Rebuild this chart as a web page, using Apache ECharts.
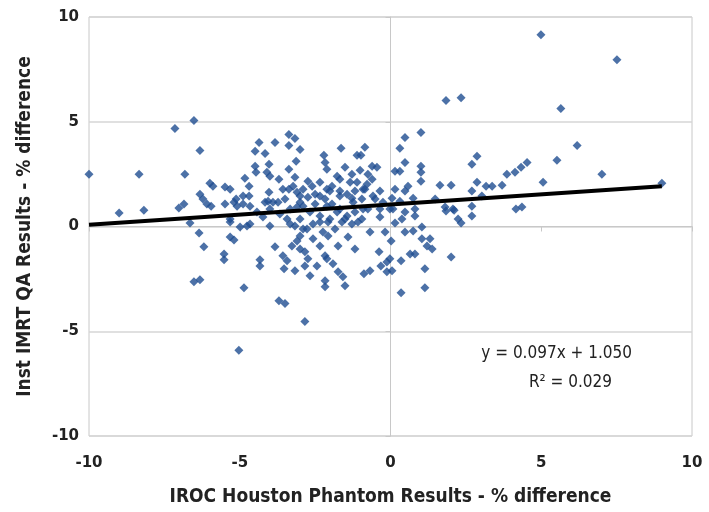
<!DOCTYPE html>
<html>
<head>
<meta charset="utf-8">
<script src="https://cdn.jsdelivr.net/npm/echarts@6/dist/echarts.min.js"></script>
<style>
html,body{margin:0;padding:0;background:#fff;}
#chart{width:709px;height:512px;}
</style>
</head>
<body>
<div id="chart"></div>
<script>
// X values: IROC Houston phantom results (% difference)
var phantomX = [
-10.00,-9.00,-8.34,-8.18,-7.15,-7.02,-6.85,-6.82,-6.52,-6.32,
4.99,7.51,1.84,2.34,5.65,6.19,5.52,7.01,9.00,-5.03,
-4.36,-3.83,-3.37,-3.17,-3.37,-3.00,-4.49,-4.16,-3.13,-2.21,
-2.17,-2.11,-4.49,-4.03,-4.10,-4.00,-3.37,-3.70,-3.17,-4.83,
-4.46,-4.69,-5.99,-5.89,-5.49,-5.32,-6.32,-6.22,-6.09,-5.95,
-5.49,-5.12,-5.09,-4.89,-4.69,-4.03,-4.06,-3.73,-3.37,-3.23,
-3.10,-2.90,-2.74,-2.60,-2.50,-2.34,-2.11,-2.74,-3.00,-3.10,
-3.33,-2.11,-5.32,-4.43,-4.00,-2.67,-2.34,-4.89,-4.66,-4.16,
-3.90,-5.19,1.01,0.48,-1.64,-0.85,-1.11,-0.98,0.31,0.48,
-1.51,-1.01,-0.61,-0.45,0.15,0.31,1.01,1.01,-1.68,-1.28,
-0.75,-0.61,-1.11,-0.78,1.01,-1.94,-2.01,-1.68,-1.44,-1.18,
-0.85,-0.35,0.15,0.58,0.48,1.64,2.01,2.70,2.70,-1.28,
-0.95,-0.51,0.05,0.75,0.31,-1.94,-1.68,-1.18,-0.75,-0.35,
0.08,0.48,0.81,1.48,1.81,2.07,2.24,2.70,-1.51,-0.95,
-0.35,0.38,0.81,2.87,2.87,3.17,3.37,3.70,3.86,4.13,
4.33,4.53,5.06,3.03,1.84,2.11,2.70,2.34,4.16,4.36,
-6.65,-6.35,-6.19,-5.52,-5.52,-5.32,-5.19,-6.52,-6.32,-4.86,
-4.33,-4.33,-3.83,-3.70,-3.50,-2.84,-4.99,-4.76,-5.32,-4.00,
-4.23,-3.57,-3.43,-3.53,-3.17,-3.27,-3.10,-3.00,-2.84,-2.74,
-2.67,-2.84,-2.44,-2.34,-2.17,-2.17,-2.17,-3.33,-3.17,-2.90,
-2.57,-2.24,-3.00,-2.07,-1.84,-1.61,-1.28,-1.08,-2.07,-1.74,
-1.41,-1.18,-0.68,-0.18,0.15,0.48,0.75,1.04,1.04,1.31,
1.21,1.38,0.02,-0.38,-0.32,-0.12,-0.02,-0.12,0.05,0.35,
0.65,0.81,1.14,1.14,0.35,2.01,-0.88,-0.68,-2.11,-1.91,
-1.74,-1.58,-1.51,-4.66,-3.00,-2.90,-3.00,-2.77,-2.34,-2.01,
-1.77,-1.44,-0.91,-1.24,-1.68,-2.34,-1.77,-1.34,-0.91,-0.58,
-0.25,-0.02,-2.57,-3.57,-3.50,-2.50,-2.17,-3.67,-3.43
];
// Y values: institution IMRT QA results (% difference)
var instQAY = [
2.49,0.64,2.49,0.78,4.68,0.88,1.07,2.49,5.06,3.63,
9.15,7.96,6.01,6.15,5.63,3.87,3.16,2.49,2.07,-5.91,
4.01,4.01,4.39,4.20,3.87,3.68,3.59,3.49,3.11,3.40,
3.06,2.73,2.87,2.97,2.59,2.40,2.73,2.26,2.35,2.30,
2.59,1.92,2.07,1.92,1.88,1.78,1.54,1.31,1.07,0.97,
1.07,1.31,0.97,1.45,1.45,1.64,1.21,1.16,1.78,1.92,
1.64,1.78,2.16,1.92,1.54,1.45,1.78,1.40,1.16,0.93,
0.83,0.97,0.36,0.69,0.83,0.69,0.50,1.07,0.97,1.16,
1.16,1.16,4.49,4.25,3.73,3.78,3.40,3.40,3.73,3.06,
2.83,2.68,2.87,2.83,2.64,2.64,2.87,2.59,2.26,2.49,
2.49,2.26,2.11,2.02,2.16,1.92,1.69,1.69,1.54,1.69,
1.78,1.69,1.78,1.92,1.69,1.97,1.97,2.97,1.69,1.35,
1.31,1.31,1.35,1.35,1.21,1.07,0.83,0.69,0.83,0.83,
0.83,0.69,0.83,1.31,0.93,0.83,0.36,0.97,0.36,0.36,
0.45,0.36,0.50,3.35,2.11,1.92,1.92,1.97,2.49,2.59,
2.83,3.06,2.11,1.45,0.74,0.78,0.50,0.17,0.83,0.93,
0.17,-0.31,-0.97,-1.31,-1.59,-0.50,-0.64,-2.64,-2.54,-2.92,
-1.59,-1.88,-0.97,-3.54,-3.68,-4.54,-0.02,0.02,0.21,0.02,
0.45,-1.40,-1.64,-2.02,-2.11,-0.93,-0.69,-1.07,-1.21,-1.54,
-2.35,-1.88,-1.88,-0.93,-1.40,-2.59,-2.87,0.12,0.02,-0.12,
0.12,-0.26,-0.45,0.21,-0.12,0.21,0.12,0.21,-0.45,-0.93,
-0.50,-1.07,-0.26,-0.26,0.17,-0.26,-0.21,-0.02,-0.59,-0.59,
-0.93,-1.07,-0.69,-1.21,-1.88,-1.69,-1.54,-2.16,-2.11,-1.64,
-1.31,-1.31,-2.02,-2.92,-3.16,-1.45,-2.26,-2.11,-1.54,-1.78,
-2.16,-2.40,-2.83,0.12,1.45,0.97,0.36,-0.12,0.21,0.36,
0.69,0.50,0.83,1.16,1.45,2.11,2.40,2.11,1.78,1.45,
1.16,0.83,-0.59,1.78,1.31,1.07,1.31,0.60,0.36
];
// Linear fit reported on the chart
var fitSlope = 0.097;
var fitIntercept = 1.050;
var fitRange = [-10, 9];
var xTicks = [-10, -5, 0, 5, 10];
var yTicks = [-10, -5, 0, 5, 10];
var fitLabel = 'y = 0.097x + 1.050';
var r2Label = 'R\u00B2 = 0.029';

var points = phantomX.map(function (x, i) { return [x, instQAY[i]]; });
var fitLine = fitRange.map(function (x) { return [x, fitSlope * x + fitIntercept]; });

var chart = echarts.init(document.getElementById('chart'), null, {renderer: 'canvas'});
var tickFont = {fontFamily: 'DejaVu Sans', fontWeight: 'bold', fontSize: 15, color: '#222'};
var titleFont = {fontFamily: 'DejaVu Sans Condensed', fontWeight: 'bold', fontSize: 19, color: '#222'};
chart.setOption({
  animation: false,
  backgroundColor: '#ffffff',
  grid: {left: 89, right: 17, top: 17, bottom: 74, show: true, borderColor: '#c8c8c8', borderWidth: 1},
  xAxis: {
    type: 'value', min: xTicks[0], max: xTicks[xTicks.length - 1], interval: 5,
    name: 'IROC Houston Phantom Results - % difference',
    nameLocation: 'middle', nameGap: 52,
    nameTextStyle: titleFont,
    axisLine: {show: true, lineStyle: {color: '#c8c8c8'}},
    axisTick: {show: true, length: 5, lineStyle: {color: '#c8c8c8'}},
    axisLabel: Object.assign({margin: 20}, tickFont),
    splitLine: {show: false}
  },
  yAxis: {
    type: 'value', min: yTicks[0], max: yTicks[yTicks.length - 1], interval: 5,
    name: 'Inst IMRT QA Results - % difference',
    nameLocation: 'middle', nameGap: 54, nameRotate: 90,
    nameTextStyle: titleFont,
    axisLine: {show: true, lineStyle: {color: '#c8c8c8'}},
    axisTick: {show: true, length: 5, lineStyle: {color: '#c8c8c8'}},
    axisLabel: Object.assign({margin: 10}, tickFont),
    splitLine: {show: true, lineStyle: {color: '#d6d6d6', width: 1.5}}
  },
  series: [
    {
      type: 'scatter', data: points, symbol: 'diamond', symbolSize: 9,
      itemStyle: {color: '#1f4e91'}, z: 2
    },
    {
      type: 'line', data: fitLine, symbol: 'none', z: 3,
      lineStyle: {color: '#000', width: 4}
    }
  ],
  graphic: [
    {type: 'text', right: 77, top: 345, style: {text: fitLabel, font: '17px "DejaVu Sans Condensed", "Noto Sans", sans-serif', fill: '#222'}},
    {type: 'text', right: 97, top: 374, style: {text: r2Label, font: '17px "DejaVu Sans Condensed", "Noto Sans", sans-serif', fill: '#222'}}
  ]
});
</script>
</body>
</html>
